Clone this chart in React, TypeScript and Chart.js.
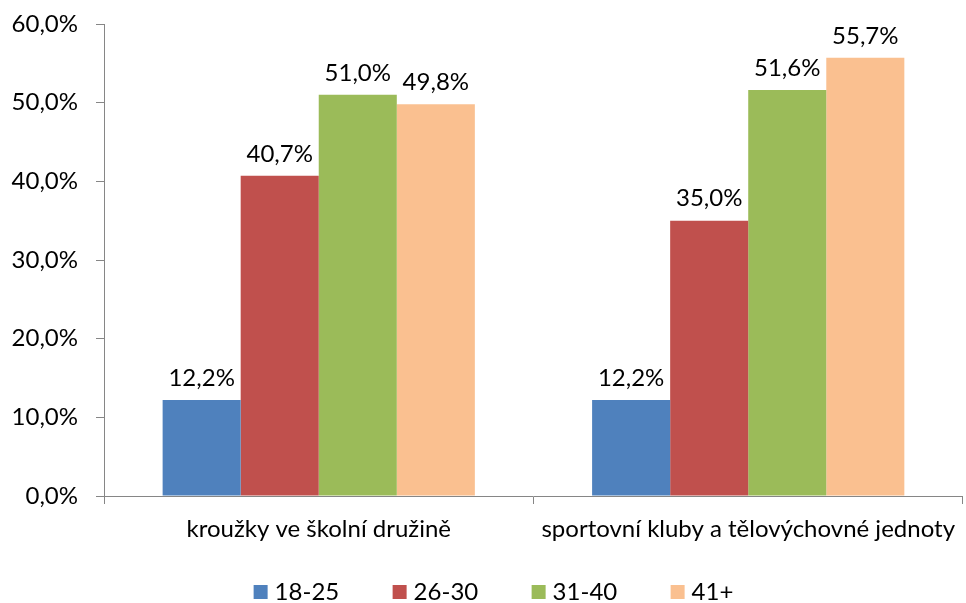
import React, { useEffect, useRef } from "react";
import { Chart, registerables } from "chart.js";

Chart.register(...registerables);

const categories = ["kroužky ve školní družině", "sportovní kluby a tělovýchovné jednoty"];
const seriesLabels = ["18-25", "26-30", "31-40", "41+"];
const values1825 = [12.2, 12.2];
const values2630 = [40.7, 35.0];
const values3140 = [51.0, 51.6];
const values41 = [49.8, 55.7];
const yTicks = [0, 10, 20, 30, 40, 50, 60];

const colors = ["#4F81BD", "#C0504D", "#9BBB59", "#FAC090"];
const FONT = "Lato, 'Noto Sans', sans-serif";
const FONT_SIZE = 24;
const AXIS_COLOR = "#868686";

const fmt = (v: number) => v.toFixed(1).replace(".", ",") + "%";

const labelsPlugin = {
  id: "valueLabels",
  afterDatasetsDraw(chart: any) {
    const ctx = chart.ctx;
    ctx.save();
    ctx.font = `${FONT_SIZE}px ${FONT}`;
    ctx.fillStyle = "#000";
    ctx.textAlign = "center";
    ctx.textBaseline = "bottom";
    chart.data.datasets.forEach((ds: any, i: number) => {
      const meta = chart.getDatasetMeta(i);
      meta.data.forEach((bar: any, j: number) => {
        ctx.fillText(fmt(ds.data[j]), bar.x, bar.y - 10);
      });
    });
    ctx.restore();
  },
};

const legendPlugin = {
  id: "customLegend",
  afterDraw(chart: any) {
    const ctx = chart.ctx;
    ctx.save();
    ctx.font = `${FONT_SIZE}px ${FONT}`;
    ctx.textBaseline = "middle";
    ctx.textAlign = "left";
    const box = 14;
    const gapBox = 7;
    const refW = ctx.measureText(seriesLabels[0]).width;
    const gap = 139 - box - gapBox - refW;
    const widths = seriesLabels.map((l) => box + gapBox + ctx.measureText(l).width);
    const total = widths.reduce((a, b) => a + b, 0) + gap * (widths.length - 1);
    let x = 493.5 - total / 2;
    const cy = 592;
    chart.data.datasets.forEach((ds: any, i: number) => {
      ctx.fillStyle = ds.backgroundColor;
      ctx.fillRect(x, cy - box / 2, box, box);
      ctx.fillStyle = "#000";
      ctx.fillText(ds.label, x + box + gapBox, cy);
      x += widths[i] + gap;
    });
    ctx.restore();
  },
};

export default function App() {
  const ref = useRef<HTMLCanvasElement>(null);
  useEffect(() => {
    if (!ref.current) return;
    const seriesValues = [values1825, values2630, values3140, values41];
    const chart = new Chart(ref.current, {
      type: "bar",
      data: {
        labels: categories,
        datasets: seriesLabels.map((label, i) => ({
          label,
          data: seriesValues[i],
          backgroundColor: colors[i],
          borderWidth: 0,
          categoryPercentage: 0.727,
          barPercentage: 1,
        })),
      },
      options: {
        responsive: false,
        animation: false,
        layout: { padding: { top: 0, left: 0, right: 0, bottom: 61 } },
        plugins: {
          legend: { display: false },
          tooltip: { enabled: false },
        },
        scales: {
          x: {
            offset: true,
            grid: {
              offset: true,
              drawOnChartArea: false,
              drawTicks: true,
              tickLength: 8,
              color: AXIS_COLOR,
            },
            border: { color: AXIS_COLOR, width: 1 },
            ticks: {
              color: "#000",
              font: { family: FONT, size: FONT_SIZE },
              padding: 11,
              maxRotation: 0,
              autoSkip: false,
            },
            afterFit: (s: any) => {
              s.height = 46;
            },
          },
          y: {
            min: 0,
            max: 60,
            afterBuildTicks: (s: any) => {
              s.ticks = yTicks.map((v) => ({ value: v }));
            },
            grid: {
              drawOnChartArea: false,
              drawTicks: true,
              tickLength: 8,
              color: AXIS_COLOR,
            },
            border: { color: AXIS_COLOR, width: 1 },
            ticks: {
              color: "#000",
              font: { family: FONT, size: FONT_SIZE },
              padding: 18,
              callback: (v: any) => fmt(Number(v)),
            },
            afterFit: (s: any) => {
              s.width = 104;
              s.paddingTop = 24;
              s.paddingBottom = 0;
            },
          },
        },
      },
      plugins: [labelsPlugin, legendPlugin],
    });
    return () => chart.destroy();
  }, []);
  return (
    <canvas
      ref={ref}
      width={966}
      height={603}
      style={{ position: "absolute", left: 0, top: 0, display: "block" }}
    />
  );
}
